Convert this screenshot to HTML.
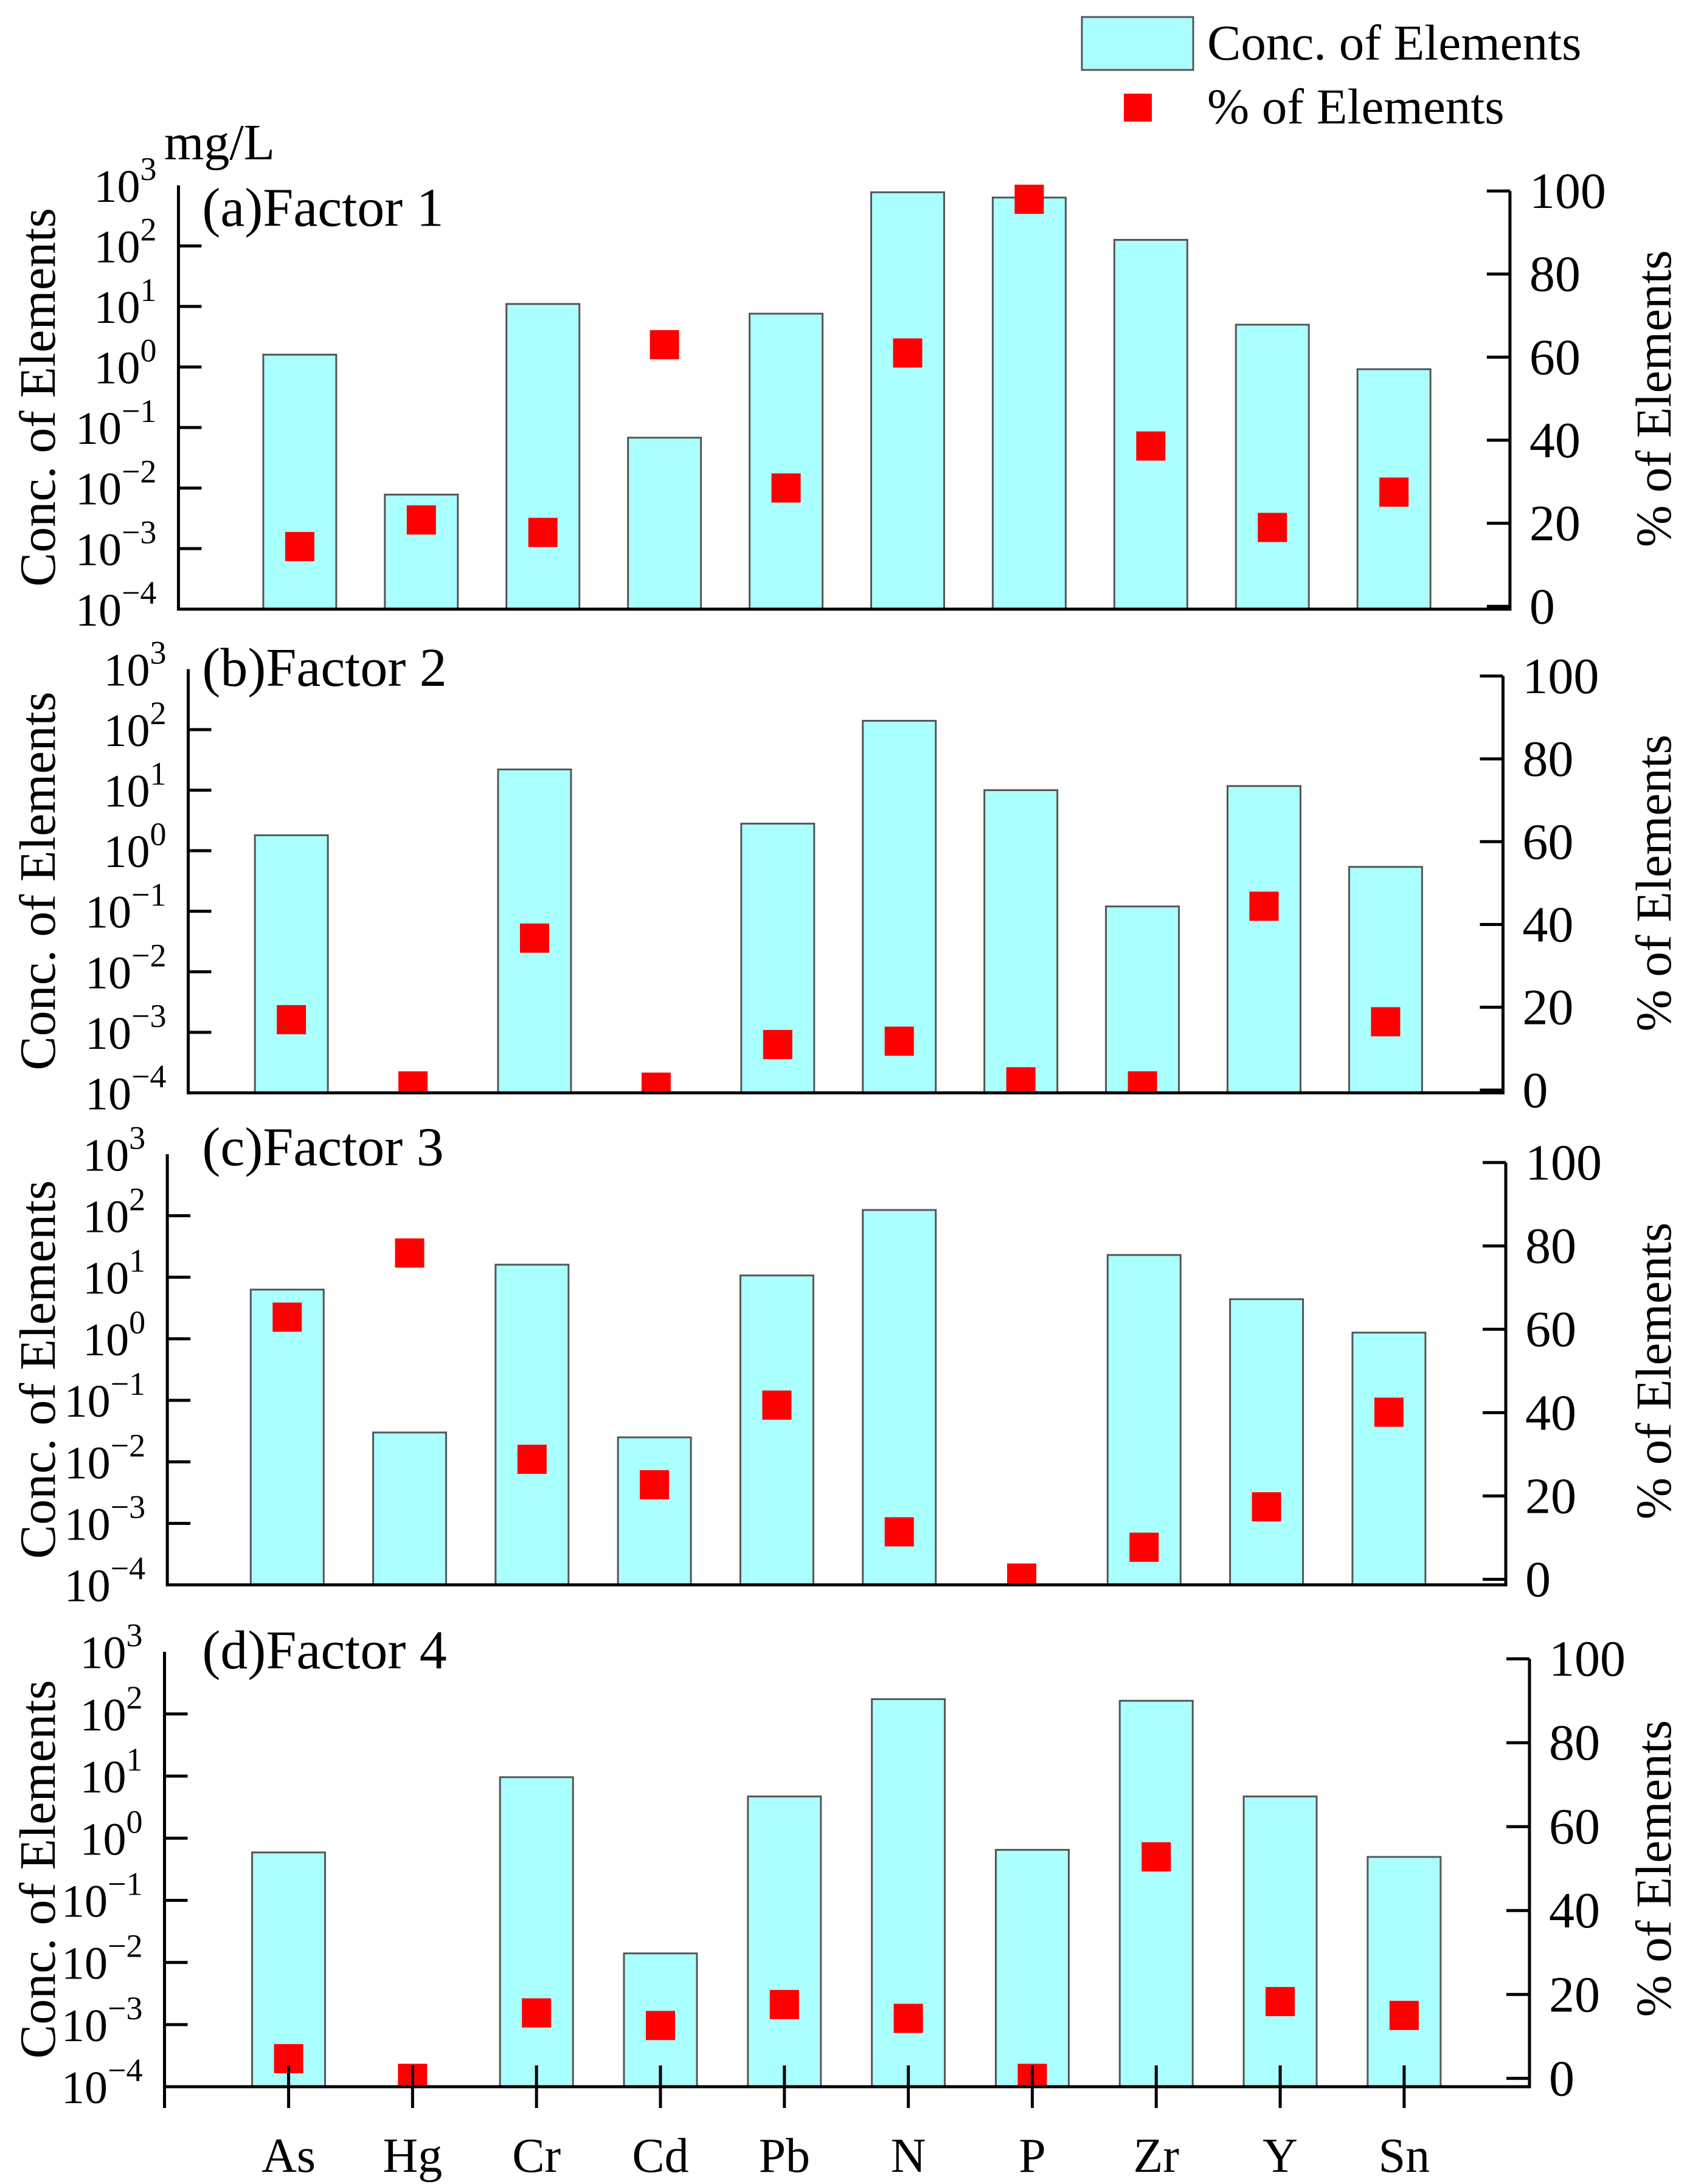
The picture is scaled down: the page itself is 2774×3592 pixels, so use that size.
<!DOCTYPE html>
<html><head><meta charset="utf-8"><style>
html,body{margin:0;padding:0;background:#fff}
svg{display:block}
text{font-family:"Liberation Serif",serif;fill:#000}
</style></head><body>
<svg id="chart" width="2774" height="3592" viewBox="0 0 2774 3592" xmlns="http://www.w3.org/2000/svg">
<g>
<rect x="1779" y="28" width="183" height="87" fill="#aaffff" stroke="#555" stroke-width="3"/>
<text x="1985" y="98" font-size="83">Conc. of Elements</text>
<rect x="1848" y="154" width="46" height="46" fill="#ff0000"/>
<text x="1985" y="203" font-size="83">% of Elements</text>
</g>
<text x="270" y="262" font-size="84">mg/L</text>
</svg>
<script>
const categories = ["As","Hg","Cr","Cd","Pb","N","P","Zr","Y","Sn"];
const concF1 = [1.6,0.0078,11,0.068,7.6,770,630,126,5,0.92];
const pctF1 = [14.4,20.8,17.8,63,28.5,61,98,38.6,19,27.5];
const concF2 = [1.8,0,22,0,2.8,140,10,0.12,11.7,0.54];
const pctF2 = [17,1,36.7,0.7,11,11.8,2,1,44.4,16.5];
const concF3 = [6.3,0.03,16,0.025,10.7,124,0,23,4.4,1.26];
const pctF3 = [62.9,78.3,28.8,22.7,41.8,11.4,0.3,7.7,17.4,40.1];
const concF4 = [0.59,0,9.6,0.014,4.7,173,0.65,163,4.7,0.5];
const pctF4 = [4.7,0,15.6,12.6,17.6,14.3,0,52.8,18.3,15];
const leftTicks = ["3","2","1","0","−1","−2","−3","−4"];
const rightTicks = ["0","20","40","60","80","100"];
const panelLabels = ["(a)Factor 1","(b)Factor 2","(c)Factor 3","(d)Factor 4"];

const S = 2.2926;
const NS = "http://www.w3.org/2000/svg";
const svg = document.getElementById('chart');
const layouts = [
 {L:128,R:1083,top:133,bot:437,rTop:137,rBot:435,x0:215,dx:87.2,ly:148},
 {L:135,R:1078,top:480,bot:784,rTop:485,rBot:782,x0:209,dx:87.2,ly:478},
 {L:120,R:1080,top:828,bot:1137,rTop:834,rBot:1133,x0:206,dx:87.8,ly:822},
 {L:118,R:1097,top:1185,bot:1497,rTop:1190,rBot:1491,x0:207,dx:88.9,ly:1183}
];
const concs = [concF1,concF2,concF3,concF4];
const pcts = [pctF1,pctF2,pctF3,pctF4];

function mk(tag, attrs, parent){const e=document.createElementNS(NS,tag);for(const k in attrs)e.setAttribute(k,attrs[k]);(parent||svg).appendChild(e);return e;}

layouts.forEach((p,pi)=>{
 const L=p.L*S,R=p.R*S,T=p.top*S,B=p.bot*S,rT=p.rTop*S,rB=p.rBot*S;
 const g=mk('g',{});
 
 
 const clipId='clip'+pi;
 const cp=mk('clipPath',{id:clipId},g);
 mk('rect',{x:L,y:T-60,width:R-L,height:B-T+60},cp);
 const yLog=v=>B-(Math.log10(v)+4)/7*(B-T);
 const yPct=v=>rB-v/100*(rB-rT);
 const xC=i=>(p.x0+i*p.dx)*S;
 const bw=120;
 concs[pi].forEach((v,i)=>{
  if(!(v>0))return;
  const y=yLog(v);
  const r=mk('rect',{x:xC(i)-bw/2,y:y,width:bw,height:B-y,fill:'#aaffff',stroke:'#555','stroke-width':3},g);
  
  
 });
 const mg=mk('g',{'clip-path':'url(#'+clipId+')'},g);
 pcts[pi].forEach((v,i)=>{
  const y=yPct(v);
  const r=mk('rect',{x:xC(i)-24,y:y-24,width:48,height:48,fill:'#ff0000'},mg);
  
  
 });
 const ax=mk('path',{d:`M${L},${T} V${B} H${R} V${rT}`,fill:'none',stroke:'#000','stroke-width':5},g);
 
 
 leftTicks.forEach((t,k)=>{
  const y=T+k*(B-T)/7;
  if(k>0&&k<7) mk('line',{x1:L,x2:L+38,y1:y,y2:y,stroke:'#000','stroke-width':5},g);
  const tx=mk('text',{x:L-36,y:y+27,'font-size':76,'text-anchor':'end'},g);
  
  
  tx.appendChild(document.createTextNode('10'));
  const ts=mk('tspan',{dy:-36,'font-size':54},tx);
  ts.textContent=t;
 });
 rightTicks.forEach((t,k)=>{
  const y=rB-k*(rB-rT)/5;
  mk('line',{x1:R-38,x2:R,y1:y,y2:y,stroke:'#000','stroke-width':5},g);
  const tx=mk('text',{x:R+32,y:y+28,'font-size':84},g);
  
  
  tx.textContent=t;
 });
 const cy=(T+B)/2;
 const lt=mk('text',{x:0,y:0,'font-size':84,'text-anchor':'middle',transform:`translate(${27*S+28},${cy}) rotate(-90)`},g);
 
 
 lt.textContent='Conc. of Elements';
 const rt=mk('text',{x:0,y:0,'font-size':83,'text-anchor':'middle',transform:`translate(${1186*S+28},${(rT+rB)/2}) rotate(-90)`},g);
 
 
 rt.textContent='% of Elements';
 const pl=mk('text',{x:145*S,y:p.ly*S+32,'font-size':90},g);
 
 
 pl.textContent=panelLabels[pi];
 if(pi===3){
  mk('line',{x1:L,x2:L,y1:B,y2:B+35,stroke:'#000','stroke-width':5},g);
  categories.forEach((c,i)=>{
   mk('line',{x1:xC(i),x2:xC(i),y1:B-35,y2:B+35,stroke:'#000','stroke-width':5},g);
   const tx=mk('text',{x:xC(i),y:1558*S,'font-size':80,'text-anchor':'middle'},g);
   
   
   tx.textContent=c;
  });
 }
});
</script>
</body></html>
